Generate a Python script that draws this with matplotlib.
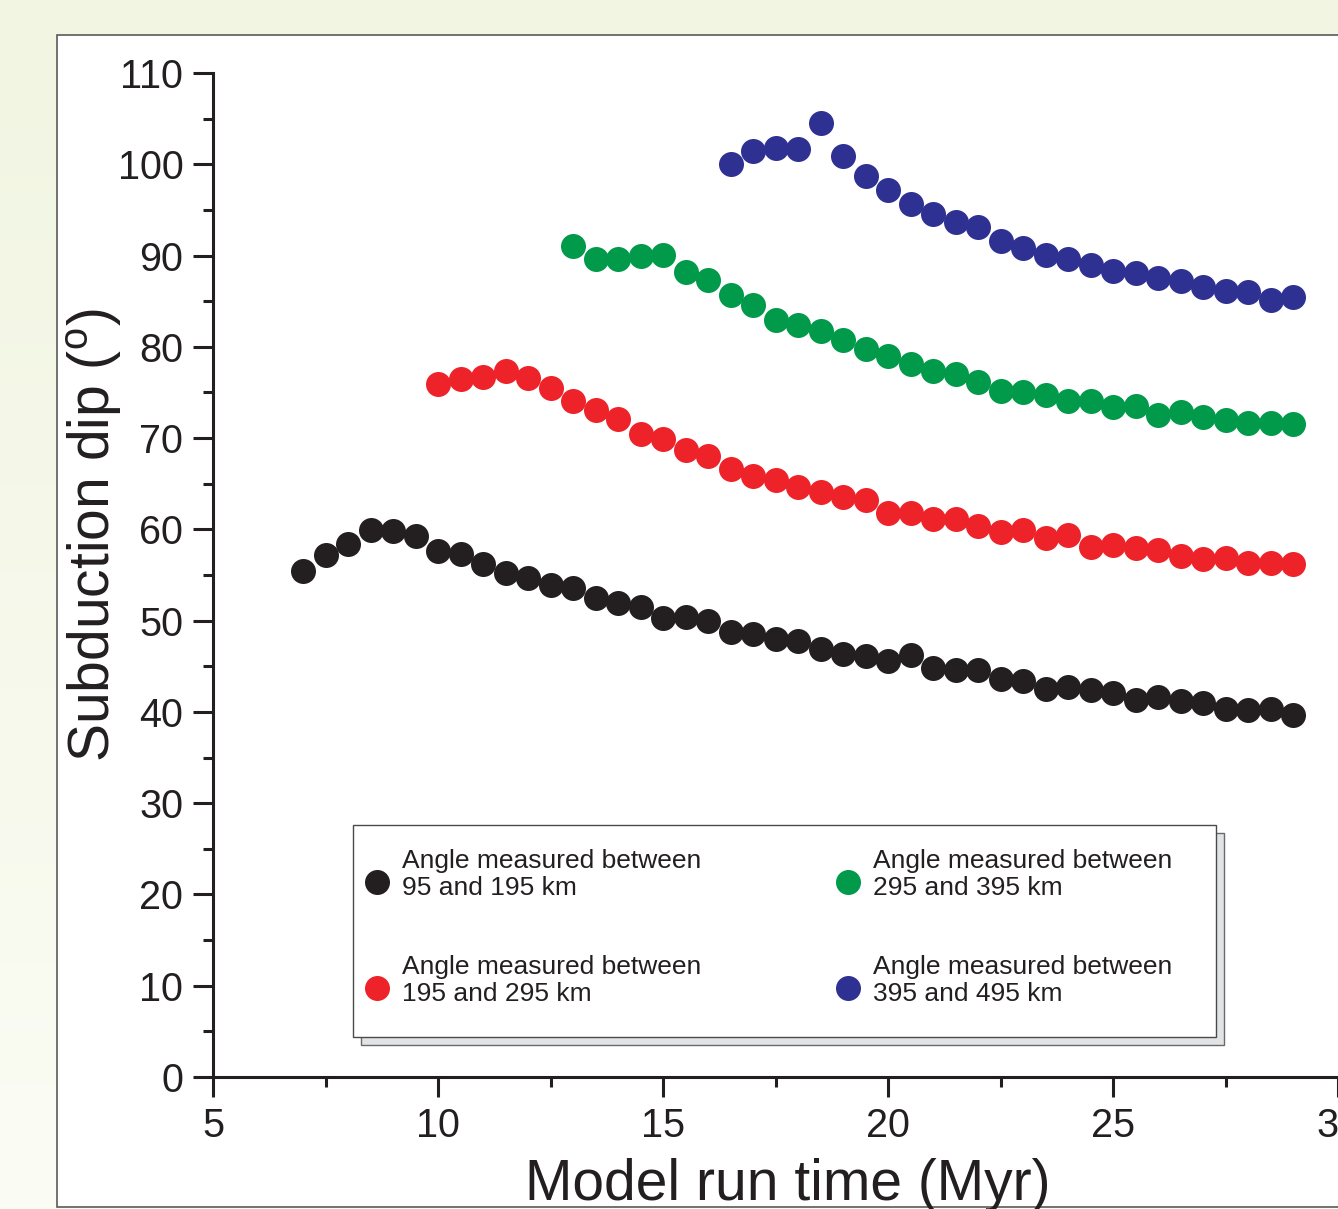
import matplotlib.pyplot as plt
import numpy as np
from matplotlib.patches import Rectangle
from matplotlib.ticker import MultipleLocator
from matplotlib.colors import to_rgb

plt.rcParams['font.family'] = ['Liberation Sans', 'DejaVu Sans']
plt.rcParams['mathtext.fontset'] = 'custom'
plt.rcParams['mathtext.rm'] = 'Liberation Sans'

INK = '#231f20'

# model run time (Myr), one sample every 0.5 Myr
time_95 = np.arange(7.0, 29.01, 0.5)
time_195 = np.arange(10.0, 29.01, 0.5)
time_295 = np.arange(13.0, 29.01, 0.5)
time_395 = np.arange(16.5, 29.01, 0.5)

# subduction dip (degrees)
dip_95 = [55.4, 57.2, 58.4, 59.9, 59.8, 59.3, 57.6, 57.3, 56.2, 55.2,
          54.7, 53.9, 53.6, 52.5, 51.9, 51.5, 50.3, 50.4, 50.0, 48.8,
          48.5, 48.0, 47.8, 46.9, 46.3, 46.1, 45.6, 46.2, 44.8, 44.6,
          44.6, 43.6, 43.4, 42.5, 42.7, 42.4, 42.1, 41.3, 41.6, 41.2,
          41.0, 40.3, 40.2, 40.3, 39.7]
dip_195 = [75.9, 76.5, 76.7, 77.3, 76.6, 75.5, 74.1, 73.1, 72.1, 70.4,
           69.9, 68.7, 68.0, 66.6, 65.9, 65.4, 64.6, 64.1, 63.6, 63.2,
           61.8, 61.8, 61.1, 61.1, 60.4, 59.7, 59.9, 59.1, 59.4, 58.1,
           58.3, 58.0, 57.7, 57.1, 56.8, 56.9, 56.3, 56.3, 56.2]
dip_295 = [91.1, 89.6, 89.6, 90.0, 90.1, 88.2, 87.3, 85.7, 84.6, 82.9,
           82.4, 81.7, 80.7, 79.8, 79.0, 78.1, 77.4, 77.0, 76.2, 75.2,
           75.0, 74.7, 74.1, 74.1, 73.4, 73.5, 72.5, 72.9, 72.3, 72.0,
           71.6, 71.6, 71.5]
dip_395 = [100.0, 101.5, 101.8, 101.7, 104.5, 100.9, 98.7, 97.2, 95.6, 94.6,
           93.7, 93.1, 91.6, 90.8, 90.1, 89.6, 89.0, 88.3, 88.1, 87.5,
           87.2, 86.6, 86.1, 86.0, 85.1, 85.5]

labels = ["Angle measured between\n95 and 195 km",
          "Angle measured between\n195 and 295 km",
          "Angle measured between\n295 and 395 km",
          "Angle measured between\n395 and 495 km"]
colors = [INK, '#ee2229', '#009a4a', '#2e3192']

W, H = 1338, 1209
fig = plt.figure(figsize=(W / 100, H / 100), dpi=100)

# pale green page background
bg = fig.add_axes([0, 0, 1, 1], zorder=-10)
c0, c1 = np.array(to_rgb('#f1f5e1')), np.array(to_rgb('#fbfcf4'))
t = np.linspace(0, 1, 256)[:, None, None]
bg.imshow(c0 + (c1 - c0) * t, aspect='auto', extent=(0, 1, 0, 1))
bg.axis('off')

# white panel
fig.add_artist(Rectangle((57 / W, 1 - 1207 / H), 1.0, (1207 - 35) / H,
                         transform=fig.transFigure, facecolor='white',
                         edgecolor='#5a5a5a', lw=1.2, zorder=-5))

ax = fig.add_axes([213 / W, 1 - 1077 / H, 1 - 213 / W, (1077 - 73) / H])
ax.patch.set_alpha(0)

handles = []
for xs, ys, c in zip([time_95, time_195, time_295, time_395],
                     [dip_95, dip_195, dip_295, dip_395], colors):
    h, = ax.plot(xs, ys, linestyle='none', marker='o', markersize=18,
                 markeredgewidth=0, color=c, zorder=2)
    handles.append(h)

ax.set_xlim(5, 30)
ax.set_ylim(0, 110)
ax.xaxis.set_major_locator(MultipleLocator(5))
ax.xaxis.set_minor_locator(MultipleLocator(2.5))
ax.yaxis.set_major_locator(MultipleLocator(10))
ax.yaxis.set_minor_locator(MultipleLocator(5))

for side in ['top', 'right']:
    ax.spines[side].set_visible(False)
for side in ['left', 'bottom']:
    ax.spines[side].set_linewidth(2.2)
    ax.spines[side].set_color(INK)

ax.tick_params(which='major', direction='out', length=14.4, width=2.2,
               color=INK, labelcolor=INK, labelsize=28.5, pad=7)
ax.tick_params(which='minor', direction='out', length=7.2, width=2.2, color=INK)

ax.set_xlabel('Model run time (Myr)', fontsize=41, color=INK)
ax.xaxis.set_label_coords(0.511, -0.0805)
ax.set_ylabel(r'Subduction dip ($^{\mathrm{o}}$)', fontsize=41, color=INK)
ax.yaxis.set_label_coords(-0.078, 0.54)

# legend box with its offset shadow
bx, by, bw, bh = 0.1244, 0.0398, 0.7671, 0.2112
ax.add_patch(Rectangle((bx + 0.0071, by - 0.008), bw, bh, transform=ax.transAxes,
                       facecolor='#e2e3e5', edgecolor='#6a6a6a', lw=1, zorder=3))
ax.add_patch(Rectangle((bx, by), bw, bh, transform=ax.transAxes,
                       facecolor='white', edgecolor='#4a4a4a', lw=1, zorder=4))

leg = ax.legend(handles, labels, ncol=2, loc='upper left',
                bbox_to_anchor=(0.1351, 0.2271), borderaxespad=0, borderpad=0,
                frameon=False, handlelength=0.9, handletextpad=0.5,
                columnspacing=5.1, labelspacing=2.07, fontsize=19)
leg.set_zorder(5)
for txt in leg.get_texts():
    txt.set_linespacing(1.18)
    txt.set_color(INK)
# markers in the reference legend sit a little lower, next to the second line
for hl in leg.legend_handles:
    hl.set_ydata(np.asarray(hl.get_ydata()) - 5)

fig.savefig('out.png', dpi=100)
